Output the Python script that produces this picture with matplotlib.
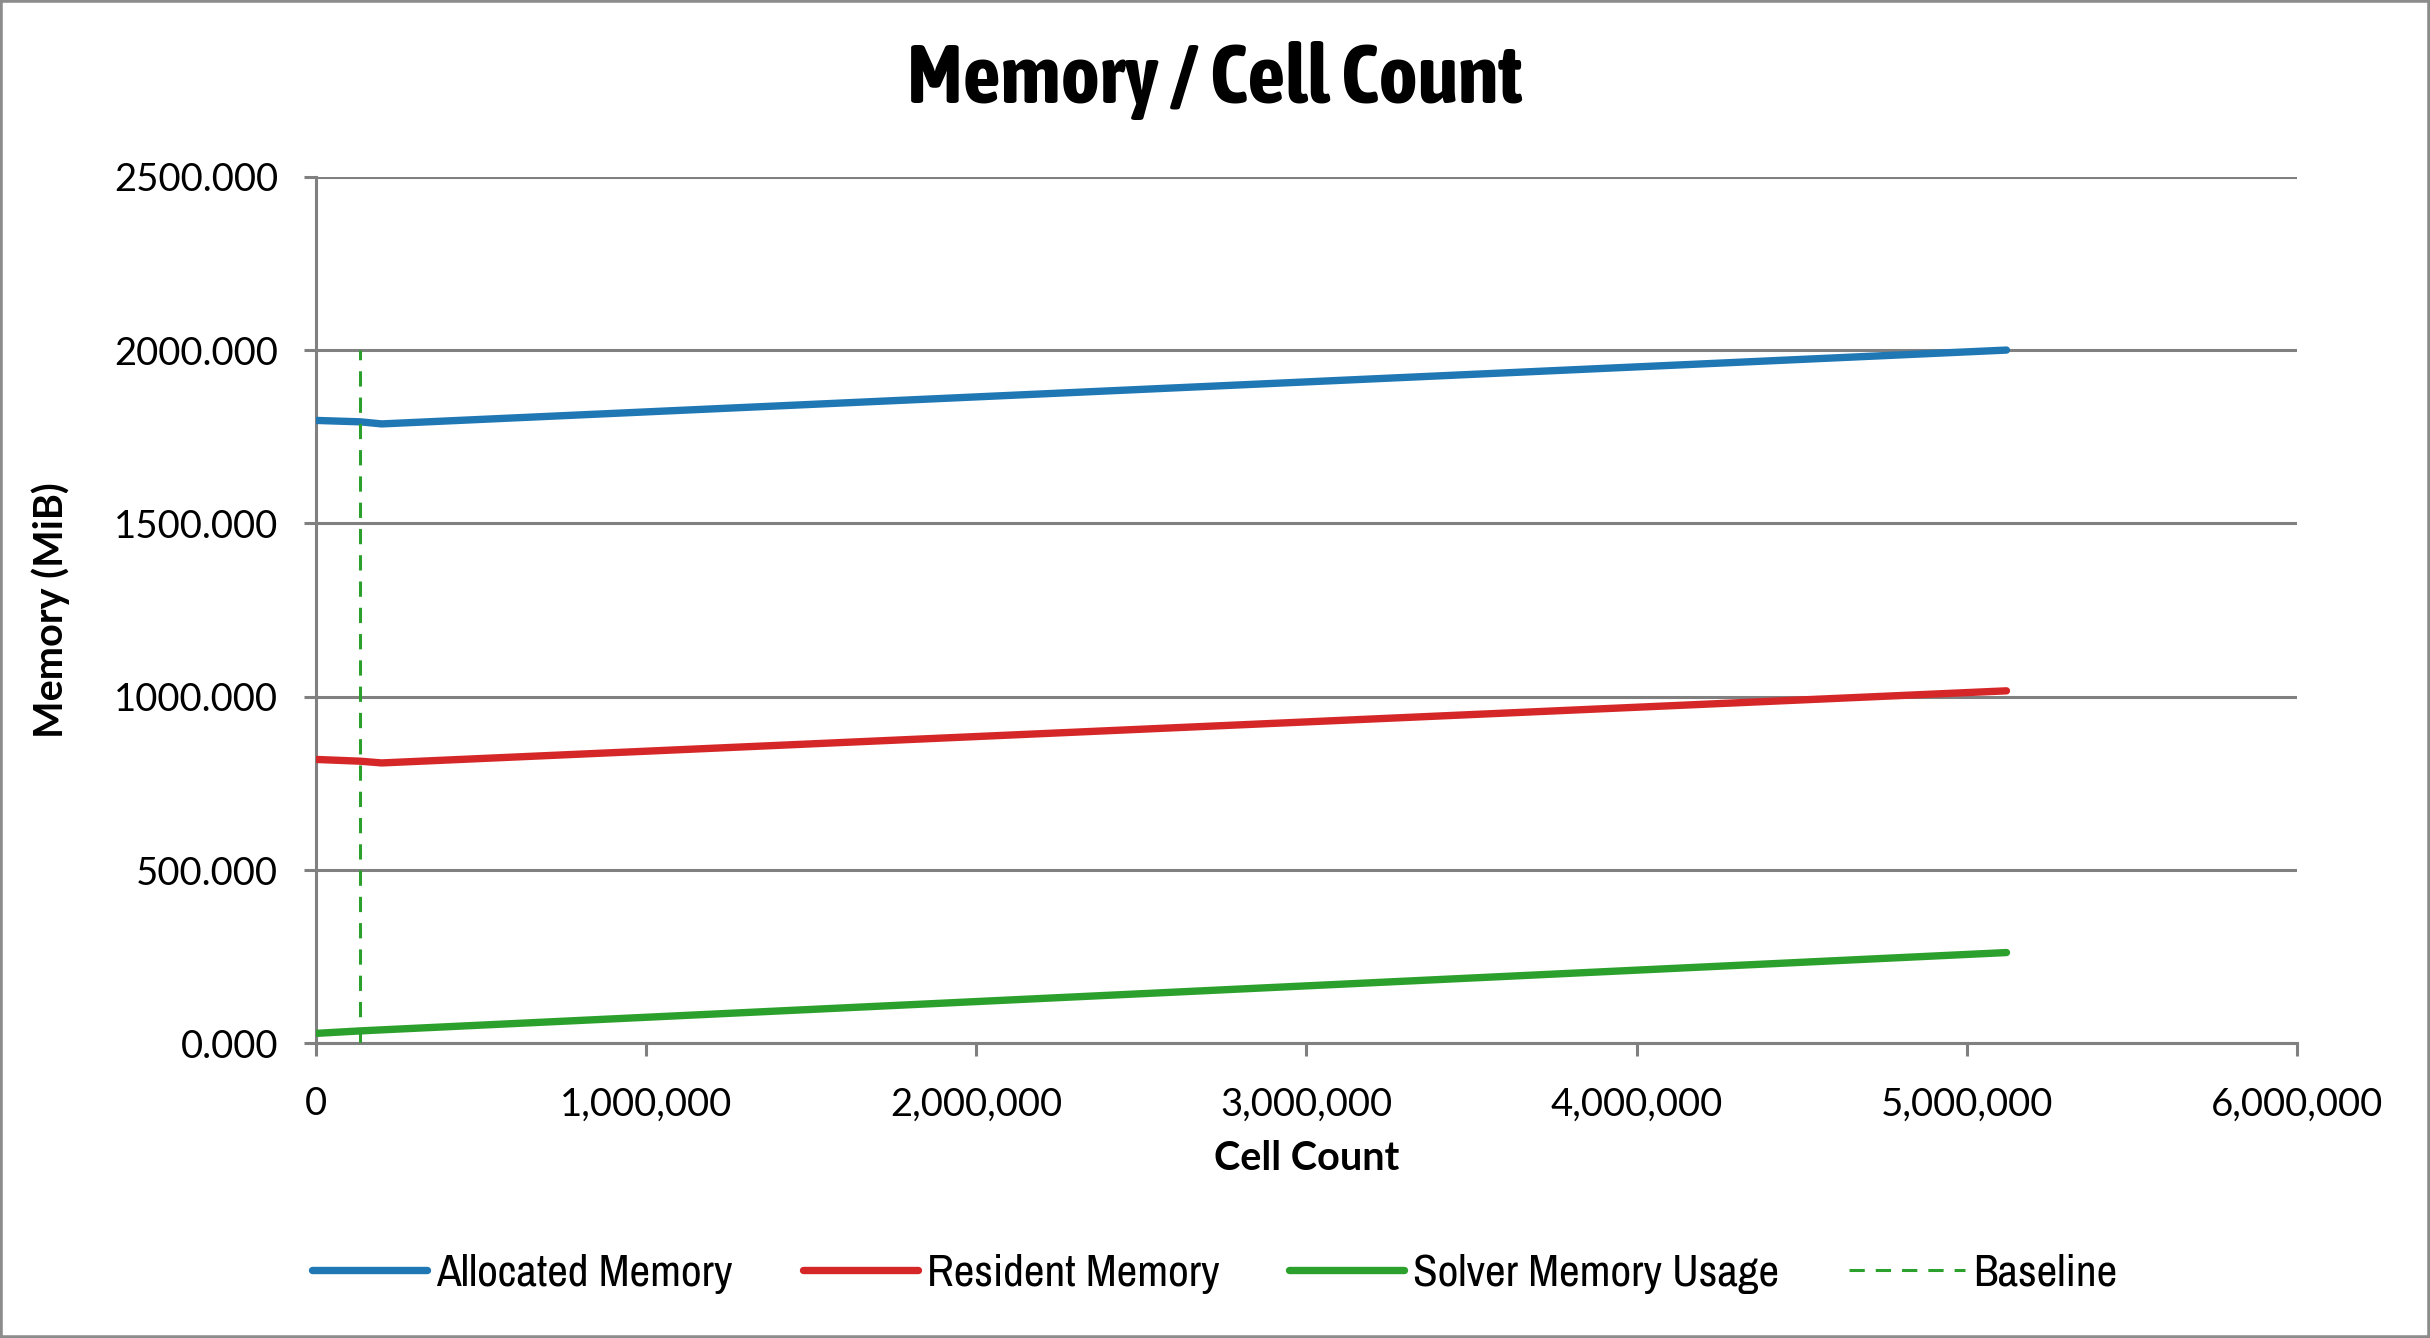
import matplotlib
matplotlib.use("Agg")
import matplotlib.pyplot as plt
from matplotlib.font_manager import fontManager, weight_dict
from matplotlib.ticker import FuncFormatter, MultipleLocator
from matplotlib.patches import Rectangle
import matplotlib.patheffects as pe

# data
cell_count = [4000, 135000, 200000, 5120000]
allocated_memory = [1797, 1793, 1787, 2000]
resident_memory = [819, 814, 809, 1017]
solver_memory = [29, 36, 39, 262]
baseline_x = 135000
baseline_top = 2000

series_names = ["Allocated Memory", "Resident Memory", "Solver Memory Usage"]
series_colors = ["#1f77b4", "#d62728", "#2ca02c"]


def wt(w):
    return w if isinstance(w, int) else weight_dict.get(w, 400)


# look for a narrow family; prefer one that also has a bold face
cond = sorted({f.name for f in fontManager.ttflist
               if "Narrow" in f.name or "Condensed" in f.name})
bold_cond = sorted({f.name for f in fontManager.ttflist
                    if f.name in cond and 600 <= wt(f.weight) <= 750})
narrow = cond + ["Roboto", "DejaVu Sans"]
narrow_bold = (bold_cond or cond) + ["Roboto", "DejaVu Sans"]
need_fake_bold = not bold_cond
regular = ["Lato", "DejaVu Sans"]

fig = plt.figure(figsize=(24.3, 13.38), dpi=100)
ax = fig.add_axes([0.1299, 0.2202, 0.9453 - 0.1299, 0.8679 - 0.2202])

for vals, name, col in zip([allocated_memory, resident_memory, solver_memory],
                           series_names, series_colors):
    ax.plot(cell_count, vals, color=col, lw=5.3, solid_capstyle="round",
            label=name, zorder=3)

ax.plot([baseline_x, baseline_x], [0, baseline_top], color="#2ca02c", lw=2.2,
        linestyle=(0, (5, 3.6)), label="Baseline", zorder=3)

ax.set_xlim(0, 6000000)
ax.set_ylim(0, 2500)
ax.xaxis.set_major_locator(MultipleLocator(1000000))
ax.yaxis.set_major_locator(MultipleLocator(500))
ax.xaxis.set_major_formatter(FuncFormatter(lambda v, p: f"{int(v):,}"))
ax.yaxis.set_major_formatter(FuncFormatter(lambda v, p: f"{v:.3f}"))

grid_col = "#808080"
ax.grid(axis="y", color=grid_col, lw=2.2, zorder=0)
for s in ["top", "right"]:
    ax.spines[s].set_visible(False)
for s in ["left", "bottom"]:
    ax.spines[s].set_color(grid_col)
    ax.spines[s].set_linewidth(2.2)
ax.tick_params(axis="both", colors=grid_col, length=9, width=2.2, labelcolor="black")
ax.tick_params(axis="x", pad=22)
ax.tick_params(axis="y", pad=18)
for lab in ax.get_xticklabels() + ax.get_yticklabels():
    lab.set_family(regular)
    lab.set_fontsize(27.5)

ax.set_xlabel("Cell Count", fontsize=28.5, fontweight="bold", family=regular, va="center")
ax.set_ylabel("Memory (MiB)", fontsize=28.5, fontweight="bold", family=regular, va="center")
ax.xaxis.set_label_coords(0.5, -0.1324)
ax.yaxis.set_label_coords(-0.1336, 0.5)

title = fig.text(0.5, 1 - 80 / 1338, "Memory / Cell Count", ha="center", va="center",
                 fontsize=60, fontweight="bold", family=narrow_bold)
if need_fake_bold:
    title.set_path_effects([pe.withStroke(linewidth=2.5, foreground="black")])

fig.legend(loc="center", bbox_to_anchor=(0.5, 1 - 1274 / 1338), ncol=4,
           frameon=False, prop={"family": narrow, "size": 32.5},
           handlelength=2.55, handletextpad=0.2, columnspacing=1.55)

fig.patches.append(Rectangle((0, 0), 1, 1, transform=fig.transFigure, fill=False,
                             edgecolor="#8c8c8c", lw=4, zorder=10))

fig.savefig("out.png", dpi=100)
